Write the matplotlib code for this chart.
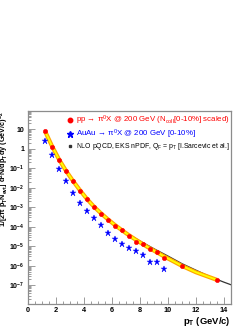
"""pi0 spectra in pp and central AuAu at 200 GeV with NLO pQCD curve."""

import math

import matplotlib
matplotlib.use("Agg")
import matplotlib.pyplot as plt
from matplotlib.lines import Line2D
from matplotlib.ticker import FixedLocator, LogLocator, MultipleLocator, FuncFormatter

plt.rcParams["font.family"] = ["Liberation Sans", "DejaVu Sans"]
plt.rcParams["mathtext.default"] = "regular"
plt.rcParams["axes.unicode_minus"] = False

# pp -> pi0 X, Ncoll scaled
pp_pt = [1.25, 1.75, 2.25, 2.75, 3.25, 3.75, 4.25, 4.75, 5.25, 5.75,
         6.25, 6.75, 7.25, 7.75, 8.25, 8.75, 9.25, 9.75, 11.0, 13.5]
pp_yield = [7.9, 1.3, 0.27, 0.073, 0.0216, 7.0e-3, 2.5e-3, 1.04e-3, 4.75e-4, 2.34e-4,
            1.15e-4, 6.6e-5, 3.3e-5, 1.6e-5, 1.37e-5, 7.0e-6, 4.9e-6, 2.57e-6, 9.8e-7, 1.96e-7]

# AuAu -> pi0 X, 0-10%
auau_pt = [1.25, 1.75, 2.25, 2.75, 3.25, 3.75, 4.25, 4.75, 5.25,
           5.75, 6.25, 6.75, 7.25, 7.75, 8.25, 8.75, 9.25, 9.75]
auau_yield = [2.5, 0.46, 0.092, 0.0223, 5.7e-3, 1.74e-3, 6.5e-4, 2.8e-4, 1.24e-4,
              4.8e-5, 2.3e-5, 1.27e-5, 8.2e-6, 5.5e-6, 3.45e-6, 1.6e-6, 1.5e-6, 7.0e-7]

# fit band to the pp points
band_pt = [1.25, 1.75, 2.25, 2.75, 3.25, 3.75, 4.25, 4.75, 5.25, 5.75, 6.25,
           6.75, 7.25, 7.75, 8.25, 8.75, 9.25, 9.75, 11.0, 12.0, 13.5]
band_yield = [7.9, 1.35, 0.28, 0.073, 0.022, 7.3e-3, 2.6e-3, 1.05e-3, 4.8e-4, 2.35e-4, 1.2e-4,
              6.5e-5, 3.6e-5, 2.1e-5, 1.25e-5, 7.6e-6, 4.8e-6, 3.0e-6, 1.0e-6, 4.7e-7, 1.9e-7]

# NLO pQCD, EKS nPDF
nlo_pt = [3.0, 3.5, 4.0, 4.5, 5.0, 5.5, 6.0, 6.5, 7.0, 8.0, 9.0, 10.0,
          11.0, 12.0, 13.0, 14.0, 14.5]
nlo_yield = [0.037, 0.0115, 3.9e-3, 1.55e-3, 7.0e-4, 3.3e-4, 1.6e-4, 8.7e-5, 5.0e-5, 1.9e-5,
             7.6e-6, 3.2e-6, 1.3e-6, 6.0e-7, 2.8e-7, 1.45e-7, 1.07e-7]

pp_label = "pp → π$^{0}$X @ 200 GeV (N$_{coll}$[0-10%] scaled)"
auau_label = "AuAu → π$^{0}$X @ 200 GeV [0-10%]"
nlo_label = "NLO pQCD, EKS nPDF, Q$_{F}$ = p$_{T}$ [I.Sarcevic et al.]"

frame_grey = "#8c8c8c"

fig = plt.figure(figsize=(2.53, 3.27), dpi=100)
ax = fig.add_axes([0.1087, 0.0703, 0.804, 0.590])

ax.plot(nlo_pt, nlo_yield, color="#333333", lw=0.9, zorder=2)
ax.plot(band_pt, band_yield, color="#ffa500", lw=3.0, solid_capstyle="butt", zorder=3)
ax.plot(band_pt, band_yield, color="#ffff00", lw=1.3, solid_capstyle="butt", zorder=3)
ax.plot(auau_pt, auau_yield, ls="none", marker="*", ms=4.6, color="#0000ff",
        mec="#0000ff", mew=0.3, zorder=4)
ax.plot(pp_pt, pp_yield, ls="none", marker="o", ms=3.2, color="#ff0000",
        mec="#ff0000", mew=0.3, zorder=5)

ax.set_yscale("log")
ax.set_xlim(0, 14.5)
ax.set_ylim(1.1e-8, 85)

ax.xaxis.set_major_locator(MultipleLocator(2))
ax.xaxis.set_minor_locator(MultipleLocator(0.5))
ax.yaxis.set_major_locator(FixedLocator([10.0 ** k for k in range(-7, 2)]))
ax.yaxis.set_minor_locator(LogLocator(base=10, subs=range(2, 10), numticks=20))


def log_label(value, pos):
    exponent = int(round(math.log10(value)))
    if exponent == 0:
        return "1"
    if exponent == 1:
        return "10"
    return "10$^{%d}$" % exponent


ax.yaxis.set_major_formatter(FuncFormatter(log_label))
ax.yaxis.set_minor_formatter(FuncFormatter(lambda v, p: ""))

ax.tick_params(which="both", direction="in", colors=frame_grey, width=0.6,
               top=False, right=False, labelcolor="black", labelsize=5.3)
ax.tick_params(axis="y", which="major", length=5, pad=2.2, labelsize=5.0)
ax.tick_params(axis="y", which="minor", length=2.5)
ax.tick_params(axis="x", which="major", length=5, pad=2)
ax.tick_params(axis="x", which="minor", length=2.5)
for lab in ax.get_xticklabels() + ax.get_yticklabels():
    lab.set_fontweight("bold")

for spine in ax.spines.values():
    spine.set_color(frame_grey)
    spine.set_linewidth(0.9)

ax.set_xlabel("p$_{T}$ (GeV/c)", fontsize=6.8, fontweight="bold", loc="right")
ax.xaxis.set_label_coords(1.0, -0.055)
ax.set_ylabel("1/[2π p$_{T}$N$_{evt}$] d$^{2}$N/dp$_{T}$dy (GeV/c)$^{-2}$",
              fontsize=5.2, fontweight="bold", loc="top")
ax.yaxis.set_label_coords(-0.083, 1.0)

handles = [
    Line2D([], [], ls="none", marker="o", ms=3.2, color="#ff0000"),
    Line2D([], [], ls="none", marker="*", ms=4.6, color="#0000ff"),
    Line2D([], [], ls="none", marker="s", ms=2.0, color="#333333"),
]
leg = ax.legend(handles, [pp_label, auau_label, nlo_label], loc="upper left",
                bbox_to_anchor=(0.194, 0.985), frameon=False, fontsize=5.65,
                handlelength=0.8, handletextpad=0.3, labelspacing=0.05,
                borderaxespad=0.0, borderpad=0.0)
text_colors = ["#ff0000", "#0000ff", "black"]
for txt, col in zip(leg.get_texts(), text_colors):
    txt.set_color(col)
leg.get_texts()[2].set_fontsize(4.95)

fig.savefig("out.png", dpi=100)
